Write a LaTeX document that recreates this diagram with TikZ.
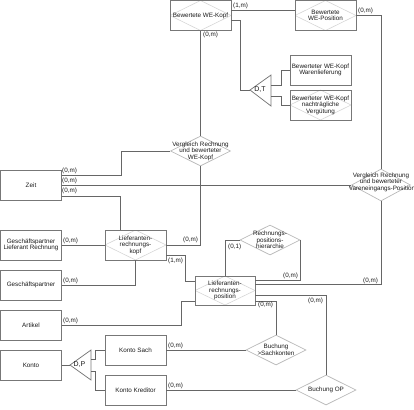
\documentclass[tikz,border=0pt]{standalone}
\usepackage{fontspec}
\setmainfont{Liberation Sans}
\usetikzlibrary{shapes.geometric}
\definecolor{linec}{HTML}{666666}
\definecolor{boxc}{HTML}{777777}
\definecolor{relc}{HTML}{B8B8B8}
\definecolor{innerc}{HTML}{D6D6D6}
\definecolor{txt}{HTML}{1A1A1A}
\begin{document}
\begin{tikzpicture}[x=1pt,y=-1pt,
  every node/.style={font=\fontsize{6.3}{6.6}\selectfont, text=txt},
  ent/.style={draw=boxc, line width=0.75pt, minimum width=61pt, minimum height=30pt, inner sep=0pt, align=center},
  inner/.style={draw=innerc, line width=0.6pt},
  assoc/.style={ent, path picture={\draw[inner] (path picture bounding box.west) -- (path picture bounding box.north) -- (path picture bounding box.east) -- (path picture bounding box.south) -- cycle;}},
  rel/.style={draw=relc, line width=0.7pt, diamond, aspect=2, minimum width=60pt, minimum height=30pt, inner sep=0pt},
  reltext/.style={align=center, inner sep=0pt},
  conn/.style={draw=linec, line width=0.75pt},
  tri/.style={draw=boxc, line width=0.75pt},
  lab/.style={anchor=west, inner sep=0pt},
  tritext/.style={font=\fontsize{7}{7}\selectfont, inner sep=0pt}]
\useasboundingbox (0,0) rectangle (414,409);

% entities
\node[assoc] (wek) at (200.5,15.5) {Bewertete WE-Kopf};
\node[assoc] (wep) at (325.5,15.5) {Bewertete\\WE-Position};
\node[ent] (wl) at (320.5,70) {Bewerteter WE-Kopf\\Warenlieferung};
\node[assoc] (nv) at (320.5,105) {Bewerteter WE-Kopf\\nachträgliche\\Vergütung};
\node[ent] (zeit) at (31,185) {Zeit};
\node[ent] (gplr) at (31,245) {Geschäftspartner\\Lieferant Rechnung};
\node[assoc] (lrk) at (135.5,245) {Lieferanten-\\rechnungs-\\kopf};
\node[ent] (gp) at (31,285) {Geschäftspartner};
\node[ent] (art) at (31,325) {Artikel};
\node[assoc, minimum width=60pt, minimum height=29pt] (lrp) at (225,290.5) {Lieferanten-\\rechnungs-\\position};
\node[ent] (konto) at (31,365) {Konto};
\node[ent] (ks) at (135.5,350) {Konto Sach};
\node[ent] (kk) at (135.5,390) {Konto Kreditor};

% relationships
\node[rel] (vrk) at (200.5,151) {};
\node[reltext] at (vrk) {Vergleich Rechnung\\und bewerteter\\WE-Kopf};
\node[rel, minimum height=32pt, minimum width=59pt] (vrp) at (381,185) {};
\begin{scope}
\clip (349,160) rectangle (414,205);
\node[reltext] at (381,182) {Vergleich Rechnung\\und bewerteter\\Wareneingangs-Position};
\end{scope}
\node[rel] (rph) at (270,240) {};
\node[reltext] at (rph) {Rechnungs-\\positions-\\hierarchie};
\node[rel] (bs) at (276,350) {};
\node[reltext] at (bs) {Buchung\\>Sachkonten};
\node[rel] (bop) at (326,390) {};
\node[reltext] at (bop) {Buchung OP};

% generalisation triangles
\coordinate (dt) at (250,90);
\coordinate (dtu) at (271,85);
\coordinate (dtl) at (271,96);
\draw[tri] (dt) -- (271,75) -- (271,106) -- cycle;
\node[tritext] (dttext) at (260,90) {D,T};
\coordinate (dp) at (70,365);
\coordinate (dpu) at (91,359);
\coordinate (dpl) at (91,371);
\draw[tri] (dp) -- (91,350) -- (91,380) -- cycle;
\node[tritext] (dptext) at (79.5,365) {D,P};

% connectors
\draw[conn] ([yshift=5pt]wek.east) -- ([yshift=5pt]wek.east -| wep.west);
\draw[conn] (wep.east) -| (vrp.north);
\draw[conn] (wek.south) -- (vrk.north);
\draw[conn] ([yshift=-5pt]wek.east) -- ++(9,0) |- (dt);
\draw[conn] (dtu) -- ++(10,0) |- (wl.west);
\draw[conn] (dtl) -- ++(10,0) |- (nv.west);
\draw[conn] ([yshift=10pt]zeit.east) -- ++(59,0) |- (vrk.west);
\draw[conn] (zeit.east) -- (vrp.west);
\draw[conn] ([yshift=-11pt]zeit.east) -| ([xshift=-15.5pt]lrk.north);
\draw[conn] (vrk.south) |- (lrk.east);
\draw[conn] (gplr.east) -- (lrk.west);
\draw[conn] ([yshift=-10pt]lrk.east) -- ++(19,0) |- ([yshift=9.5pt]lrp.west);
\draw[conn] (lrk.south) |- (gp.east);
\draw[conn] (art.east) -- ++(119.5,0) |- ([yshift=-10.5pt]lrp.west);
\draw[conn] (rph.west) -| (lrp.north);
\draw[conn] (rph.east) |- ([yshift=10.5pt]lrp.east);
\draw[conn] (vrp.south) |- ([yshift=6.5pt]lrp.east);
\draw[conn] (bop.north) |- ([yshift=-4.5pt]lrp.east);
\draw[conn] (bs.north) |- ([yshift=-10.5pt]lrp.east);
\draw[conn] (ks.east) -- (bs.west);
\draw[conn] (kk.east) -- (bop.west);
\draw[conn] (konto.east) -- (dp);
\draw[conn] (dpu) -- ++(4,0) |- (ks.west);
\draw[conn] (dpl) -- ++(4,0) |- (kk.west);

% cardinalities
\node[lab] at (233,6) {(1,m)};
\node[lab] at (358,11) {(0,m)};
\node[lab] at (203,35) {(0,m)};
\node[lab] at (62,171) {(0,m)};
\node[lab] at (62,181) {(0,m)};
\node[lab] at (62,191) {(0,m)};
\node[lab] at (63,241) {(0,m)};
\node[lab] at (183,240) {(0,m)};
\node[lab] at (168,261) {(1,m)};
\node[lab] at (63,281) {(0,m)};
\node[lab] at (63,321) {(0,m)};
\node[lab] at (168,346) {(0,m)};
\node[lab] at (168,386) {(0,m)};
\node[lab] at (228,247) {(0,1)};
\node[lab] at (283,276) {(0,m)};
\node[lab] at (363,281) {(0,m)};
\node[lab] at (258,305) {(0,m)};
\node[lab] at (308,301) {(0,m)};
\end{tikzpicture}
\end{document}
